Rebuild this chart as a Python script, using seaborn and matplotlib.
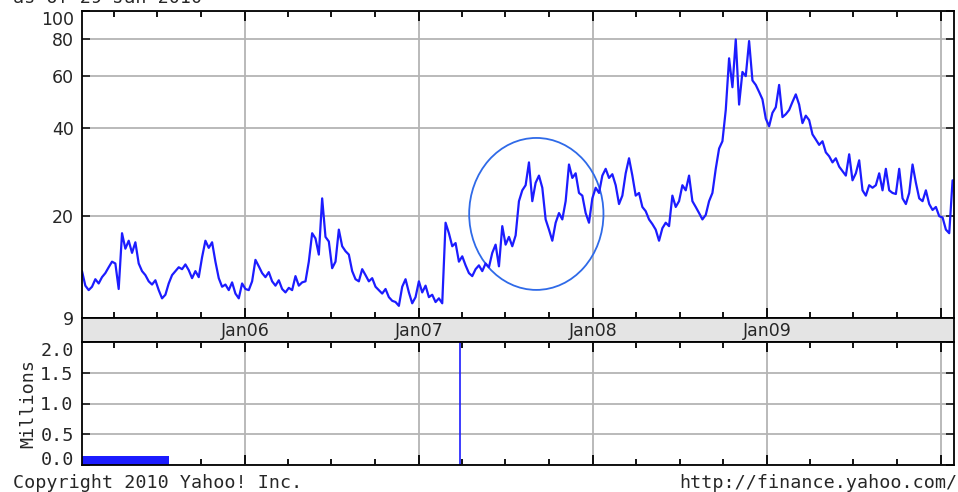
import numpy as np
import pandas as pd
import matplotlib
matplotlib.use("Agg")
import matplotlib.pyplot as plt
import matplotlib.dates as mdates
from matplotlib.patches import Ellipse
import seaborn as sns

# ---------------------------------
# DATA (weekly closes)
# ---------------------------------

start_date = "2005-01-24"
end_date = "2010-01-28"

close = [
    13.0, 11.6, 11.2, 11.5, 12.2, 11.8, 12.4, 12.8, 13.4, 14.0,
    13.8, 11.3, 17.5, 15.5, 16.5, 15.0, 16.3, 13.8, 13.0, 12.6,
    12.0, 11.7, 12.1, 11.2, 10.5, 10.8, 11.8, 12.6, 13.0, 13.4,
    13.2, 13.7, 13.1, 12.3, 13.0, 12.4, 14.5, 16.5, 15.6, 16.3,
    14.0, 12.3, 11.5, 11.7, 11.2, 11.9, 10.9, 10.5, 11.8, 11.3,
    11.2, 12.0, 14.2, 13.5, 12.8, 12.4, 12.9, 12.0, 11.6, 12.1,
    11.3, 11.0, 11.4, 11.2, 12.5, 11.6, 11.9, 12.0, 14.0, 17.5,
    16.8, 14.8, 23.0, 17.0, 16.4, 13.3, 14.0, 18.0, 15.8, 15.2,
    14.8, 13.0, 12.2, 12.0, 13.2, 12.6, 12.0, 12.3, 11.5, 11.2,
    10.9, 11.3, 10.6, 10.3, 10.2, 9.9, 11.5, 12.2, 11.0, 10.1,
    10.6, 12.0, 11.0, 11.6, 10.6, 10.8, 10.2, 10.5, 10.1, 19.0,
    17.5, 15.8, 16.2, 14.0, 14.6, 13.6, 12.8, 12.5, 13.2, 13.6,
    13.0, 13.8, 13.4, 15.0, 16.0, 13.5, 18.5, 16.0, 17.0, 15.8,
    17.2, 22.5, 24.5, 25.5, 30.5, 22.5, 26.0, 27.5, 25.0, 19.5,
    18.0, 16.5, 19.0, 20.5, 19.5, 22.5, 30.0, 27.0, 28.0, 24.0,
    23.5, 20.5, 19.0, 23.0, 25.0, 24.0, 27.5, 29.0, 27.0, 27.8,
    25.5, 22.0, 23.5, 28.0, 31.5, 27.5, 23.5, 24.0, 21.5, 20.8,
    19.5, 18.8, 18.0, 16.5, 18.2, 19.0, 18.5, 23.5, 21.5, 22.5,
    25.5, 24.5, 27.5, 22.5, 21.5, 20.5, 19.5, 20.2, 22.5, 24.0,
    29.0, 34.0, 36.0, 46.0, 69.0, 55.0, 80.0, 48.0, 62.0, 60.0,
    79.0, 58.0, 56.0, 53.0, 50.0, 43.0, 40.5, 45.0, 47.0, 56.0,
    43.5, 44.5, 46.0, 49.0, 52.0, 48.0, 41.5, 44.0, 42.5, 38.0,
    36.5, 35.0, 36.0, 33.0, 32.0, 30.5, 31.5, 29.5, 28.5, 27.5,
    32.5, 26.5, 28.0, 31.0, 24.5, 23.5, 25.5, 25.0, 25.5, 28.0,
    24.5, 29.0, 24.5, 24.0, 23.8, 29.0, 23.0, 22.0, 24.0, 30.0,
    26.0, 23.0, 22.5, 24.5, 22.0, 21.0, 21.5, 20.0, 19.8, 18.0,
    17.5, 26.5,
]

# volume (millions): weekly block at the start + one spike
vol_block = [0.15, 0.15, 0.15, 0.15, 0.15, 0.15, 0.15, 0.15, 0.15, 0.15,
             0.15, 0.15, 0.15, 0.15, 0.15, 0.15, 0.15, 0.15, 0.15, 0.15,
             0.15, 0.15, 0.15, 0.15, 0.15, 0.15]
spike_date = "2007-03-29"
spike_value = 2.4

price_ticks = [9, 20, 40, 60, 80, 100]
vol_ticks = [0.0, 0.5, 1.0, 1.5, 2.0]
year_labels = ["Jan06", "Jan07", "Jan08", "Jan09"]

df = pd.DataFrame({
    "Date": pd.date_range(start_date, periods=len(close), freq="7D"),
    "Close": close,
})
vol_dates = pd.date_range(start_date, periods=len(vol_block), freq="7D")

# ---------------------------------
# STYLE
# ---------------------------------

sns.set_style("white")
plt.rcParams["font.family"] = ["DejaVu Sans"]
plt.rcParams["axes.linewidth"] = 1.3
plt.rcParams["axes.edgecolor"] = "black"

LINE = "#1c1cff"
GRID = "#b4b4b4"
MONO = "DejaVu Sans Mono"

W, H = 958, 492
fig = plt.figure(figsize=(W / 100, H / 100), dpi=100)

def px_axes(left, top, right, bottom):
    return fig.add_axes([left / W, 1 - bottom / H, (right - left) / W, (bottom - top) / H])

ax = px_axes(82, 11, 954, 318)
band = px_axes(82, 318, 954, 342)
vax = px_axes(82, 342, 954, 465)

xmin, xmax = pd.Timestamp(start_date), pd.Timestamp(end_date)

# ---------------------------------
# PRICE PANEL
# ---------------------------------

sns.lineplot(data=df, x="Date", y="Close", ax=ax, color=LINE, linewidth=1.6)
ax.set_yscale("log")
ax.set_ylim(9, 100)
ax.set_xlim(xmin, xmax)
ax.yaxis.set_major_locator(matplotlib.ticker.FixedLocator(price_ticks))
ax.yaxis.set_minor_locator(matplotlib.ticker.NullLocator())
ax.set_yticklabels([str(t) for t in price_ticks], fontsize=12.5)
ax.get_yticklabels()[-1].set_va("top")
ax.set_xlabel("")
ax.set_ylabel("")

for a in (ax, vax):
    a.xaxis.set_major_locator(mdates.YearLocator())
    a.xaxis.set_minor_locator(mdates.MonthLocator(bymonth=[4, 7, 10]))
    a.tick_params(axis="x", which="both", labelbottom=False, top=True, bottom=True,
                  direction="in", color="black")
    a.tick_params(axis="x", which="major", length=7, width=1.3)
    a.tick_params(axis="x", which="minor", length=4, width=1.3)
    a.tick_params(axis="y", which="major", direction="in", length=6, width=1.3,
                  left=True, right=True, pad=6)
    a.grid(True, which="major", color=GRID, linewidth=1.3)
    a.set_axisbelow(True)

# circle annotation
ax.add_patch(Ellipse((0.521, 0.339), 0.154, 0.495, transform=ax.transAxes,
                     fill=False, edgecolor="#2f6ae8", linewidth=1.3))

# ---------------------------------
# DATE BAND
# ---------------------------------

band.set_facecolor("#e4e4e4")
band.set_xlim(xmin, xmax)
band.set_ylim(0, 1)
band.set_xticks([])
band.set_yticks([])
for i, lab in enumerate(year_labels):
    band.text(pd.Timestamp(f"{2006 + i}-01-01"), 0.45, lab, ha="center", va="center",
              fontsize=12.5, transform=band.get_xaxis_transform())

# ---------------------------------
# VOLUME PANEL
# ---------------------------------

vax.bar(vol_dates, vol_block, width=7, align="edge", color="#1c1cff", linewidth=0)
vax.vlines(pd.Timestamp(spike_date), 0, spike_value, color=LINE, linewidth=1.2)
vax.set_xlim(xmin, xmax)
vax.set_ylim(0, 2.0)
vax.set_yticks(vol_ticks)
vax.set_yticklabels([f"{t:.1f}" for t in vol_ticks], family=MONO, fontsize=13.2)
for lab in vax.get_yticklabels():
    lab.set_va("center_baseline")
vax.get_yticklabels()[-1].set_va("top")
vax.get_yticklabels()[0].set_va("baseline")
vax.set_ylabel("Millions", family=MONO, fontsize=13.2, labelpad=2)

# ---------------------------------
# TEXT
# ---------------------------------

fig.text(13 / W, 1 - 3 / H, "as of 29-Jan-2010", family=MONO, fontsize=13.2, va="baseline")
fig.text(13 / W, 1 - 483 / H, "Copyright 2010 Yahoo! Inc.", family=MONO, fontsize=13.2, va="center")
fig.text(679 / W, 1 - 483 / H, "http://finance.yahoo.com/", family=MONO, fontsize=13.2, va="center")

fig.savefig("out.png", dpi=100)
